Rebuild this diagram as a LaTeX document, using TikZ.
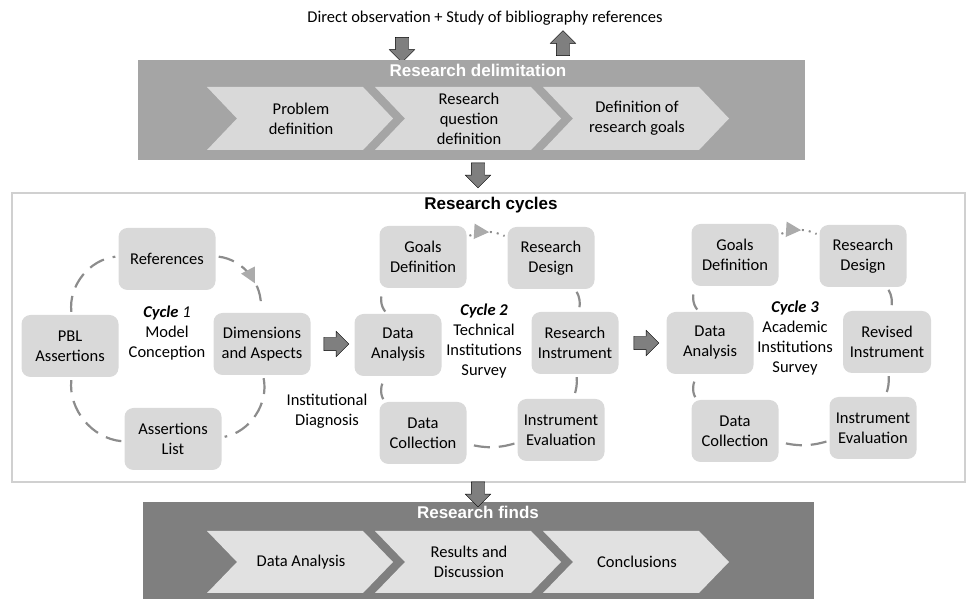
\documentclass[tikz,border=0pt]{standalone}
\usepackage{fontspec}
\setmainfont{Carlito}
\newfontfamily\headfont{Liberation Sans}
\usepackage{tikz}
\usetikzlibrary{shapes,arrows.meta,calc,positioning,decorations.markings}

\definecolor{bandlight}{HTML}{A5A5A5}
\definecolor{banddark}{HTML}{7F7F7F}
\definecolor{boxgray}{HTML}{D9D9D9}
\definecolor{linegray}{HTML}{8C8C8C}
\definecolor{tipgray}{HTML}{ABABAB}
\definecolor{framegray}{HTML}{D0D0D0}

\begin{document}
\begin{tikzpicture}[x=1pt,y=1pt,
	every node/.style={font=\fontsize{16.5}{20}\selectfont},
	box/.style={fill=boxgray,rounded corners=9pt,minimum width=87pt,minimum height=62pt,align=center,inner sep=2pt},
	widebox/.style={box,minimum width=97pt},
	fat/.style={single arrow,draw=black,fill=banddark,inner xsep=0pt,inner ysep=6.5pt,minimum height=25pt,single arrow head extend=6pt},
	head/.style={font=\headfont\fontsize{17}{20}\selectfont\bfseries},
	cyc/.style={draw=linegray,line width=2.2pt,dash pattern=on 16pt off 9pt,shorten <=3pt,shorten >=3pt},
	dotcyc/.style={draw=linegray,line width=2pt,dash pattern=on 2pt off 5pt,shorten <=3pt,shorten >=3pt},
	midtip/.style={postaction={decorate},decoration={markings,mark=at position #1 with {\arrow[tipgray]{Triangle[length=15pt,width=15pt]}}}},
	midtip/.default=0.5]
	\useasboundingbox (0,0) rectangle (966,599);

	% delimitation
	\node (source) at (485,581) {Direct observation + Study of bibliography references};
	\node[fat,rotate=-90] (down1) at (402,552.5) {};
	\node[fat,rotate=90] (up1) at (563,552.5) {};
	\fill[bandlight] (138,439) rectangle (805,539);
	\node[head,white] (delimtitle) at (478,529) {Research delimitation};
	\foreach \i/\txt in {0/{Problem\\definition},1/{Research\\question\\definition},2/{Definition of\\research goals}} {
			\fill[boxgray] ({207+168*\i},512) -- ++(156,0) -- ++(30,-31.5) -- ++(-30,-31.5) -- ++(-156,0) -- ++(30,31.5) -- cycle;
			\node[align=center] (delim\i) at ({301+168*\i},480.5) {\txt};
		}
	\node[fat,rotate=-90] (down2) at (478,427) {};

	% cycles
	\draw[framegray,line width=1.2pt] (12,117) rectangle (965,406);
	\node[head] (cycletitle) at (491,394) {Research cycles};

	\node[widebox] (ref1) at (167,340) {References};
	\node[widebox] (pbl1) at (70,253) {PBL\\Assertions};
	\node[widebox] (dim1) at (262,255) {Dimensions\\and Aspects};
	\node[widebox] (list1) at (173,160) {Assertions\\List};
	\node[align=center] (cyc1) at (167,266) {\textbf{\textit{Cycle}} \textit{1}\\Model\\Conception};
	\node[align=center] (diag) at (327,188) {Institutional\\Diagnosis};
	\node[fat] (arr1) at (333,255) {};

	\node[box] (goals2) at (423,342) {Goals\\Definition};
	\node[box] (design2) at (551,341) {Research\\Design};
	\node[box] (analysis2) at (398,254) {Data\\Analysis};
	\node[box] (instr2) at (575,256) {Research\\Instrument};
	\node[box] (collect2) at (423,166) {Data\\Collection};
	\node[box] (eval2) at (561,169) {Instrument\\Evaluation};
	\node[align=center] (cyc2) at (484,258) {\textbf{\textit{Cycle 2}}\\Technical\\Institutions\\Survey};
	\node[fat] (arr2) at (643,256) {};

	\node[box] (goals3) at (735,344) {Goals\\Definition};
	\node[box] (design3) at (863,343) {Research\\Design};
	\node[box] (analysis3) at (710,256) {Data\\Analysis};
	\node[box,minimum width=88pt] (revised3) at (887,257) {Revised\\Instrument};
	\node[box] (collect3) at (735,168) {Data\\Collection};
	\node[box] (eval3) at (873,171) {Instrument\\Evaluation};
	\node[align=center] (cyc3) at (795,261) {\textbf{\textit{Cycle 3}}\\Academic\\Institutions\\Survey};

	\draw[cyc,midtip=0.62] (ref1) to[bend left=45] (dim1);
	\foreach \a/\b in {dim1/list1,list1/pbl1,pbl1/ref1}
		\draw[cyc] (\a) to[bend left=45] (\b);
	\foreach \c in {2,3} {
			\draw[dotcyc,midtip=0.55] (goals\c) to[bend left=25] (design\c);
			\draw[cyc] (eval\c) to[bend left=15] (collect\c);
			\draw[cyc] (collect\c) to[bend left=35] (analysis\c);
			\draw[cyc] (analysis\c) to[bend left=35] (goals\c);
		}
	\draw[cyc] (design2) to[bend left=22] (instr2);
	\draw[cyc] (instr2) to[bend left=12] (eval2);
	\draw[cyc] (design3) to[bend left=22] (revised3);
	\draw[cyc] (revised3) to[bend left=12] (eval3);

	% finds
	\fill[banddark] (143,0) rectangle (814,97);
	\node[fat,rotate=-90] (down3) at (478,108) {};
	\node[head,white] (findstitle) at (478,87) {Research finds};
	\foreach \i/\txt in {0/{Data Analysis},1/{Results and\\Discussion},2/{Conclusions}} {
			\fill[boxgray!80!white] ({207+168*\i},68) -- ++(156,0) -- ++(30,-31) -- ++(-30,-31) -- ++(-156,0) -- ++(30,31) -- cycle;
			\node[align=center] (finds\i) at ({301+168*\i},37) {\txt};
		}
\end{tikzpicture}
\end{document}
